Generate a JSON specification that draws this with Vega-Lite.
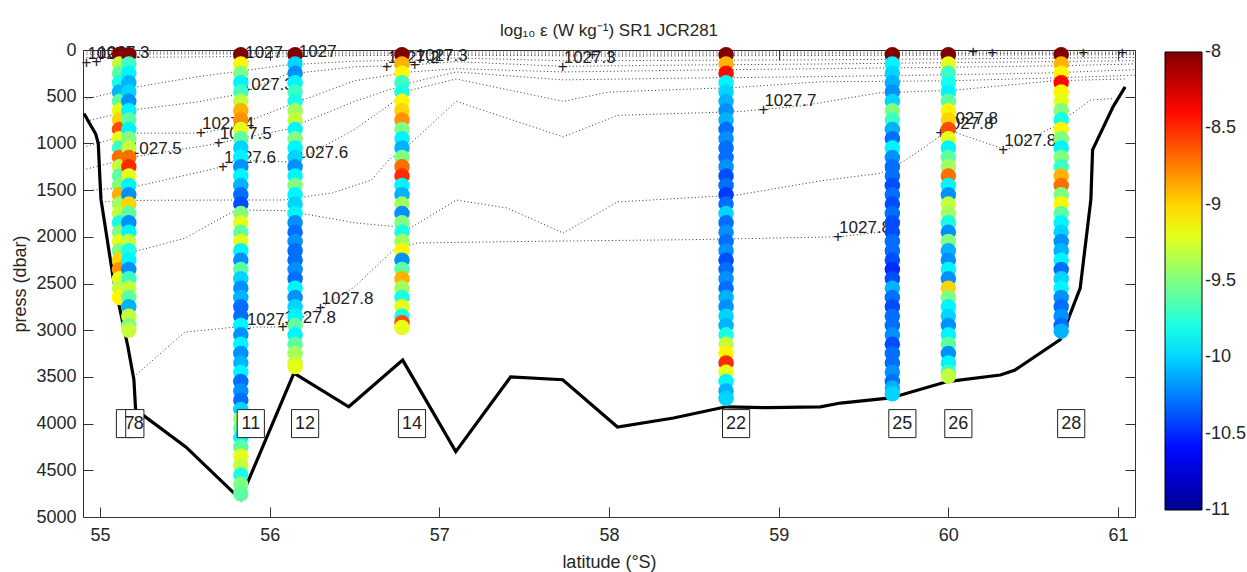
{
  "$schema": "https://vega.github.io/schema/vega-lite/v6.json",
  "width": 1052,
  "height": 467,
  "autosize": {"type": "none"},
  "padding": {"left": 83, "top": 50, "right": 112, "bottom": 55},
  "background": "white",
  "title": {"text": "log₁₀ ε (W kg⁻¹) SR1 JCR281", "fontSize": 17, "font": "Liberation Sans", "fontWeight": "normal", "color": "#262626", "frame": "group", "anchor": "middle", "offset": 14, "dy": 33, "baseline": "alphabetic"},
  "config": {
    "view": {"stroke": null},
    "axis": {"domainColor": "#333333", "tickColor": "#333333", "labelColor": "#262626", "labelFont": "Liberation Sans", "labelFontSize": 18, "titleFont": "Liberation Sans", "titleFontSize": 18, "titleFontWeight": "normal", "titleColor": "#262626", "grid": false, "tickSize": -10, "domainWidth": 1, "tickWidth": 1}
  },
  "resolve": {"axis": {"x": "independent", "y": "independent"}},
  "datasets": {
    "cont": [
      {"c":"t1","lat":54.9,"p":22},{"c":"t1","lat":61.1,"p":22},
      {"c":"t2","lat":54.9,"p":45},{"c":"t2","lat":56.0,"p":40},{"c":"t2","lat":58.0,"p":45},{"c":"t2","lat":61.1,"p":35},
      {"c":"t3","lat":54.9,"p":80},{"c":"t3","lat":55.5,"p":75},{"c":"t3","lat":56.5,"p":60},{"c":"t3","lat":57.1,"p":55},{"c":"t3","lat":58.0,"p":65},{"c":"t3","lat":59.0,"p":60},{"c":"t3","lat":60.0,"p":55},{"c":"t3","lat":61.1,"p":50},
      {"c":"a","lat":54.9,"p":535},{"c":"a","lat":55.2,"p":400},{"c":"a","lat":55.56,"p":290},{"c":"a","lat":55.79,"p":235},{"c":"a","lat":56.1,"p":160},{"c":"a","lat":56.5,"p":120},{"c":"a","lat":56.8,"p":110},{"c":"a","lat":57.1,"p":85},{"c":"a","lat":57.73,"p":115},{"c":"a","lat":58.5,"p":110},{"c":"a","lat":59.25,"p":105},{"c":"a","lat":60.0,"p":95},{"c":"a","lat":61.1,"p":80},
      {"c":"b","lat":54.9,"p":770},{"c":"b","lat":55.2,"p":640},{"c":"b","lat":55.56,"p":560},{"c":"b","lat":55.83,"p":470},{"c":"b","lat":56.1,"p":260},{"c":"b","lat":56.5,"p":180},{"c":"b","lat":56.8,"p":165},{"c":"b","lat":57.1,"p":125},{"c":"b","lat":57.73,"p":175},{"c":"b","lat":58.5,"p":160},{"c":"b","lat":59.25,"p":150},{"c":"b","lat":60.0,"p":135},{"c":"b","lat":61.1,"p":115},
      {"c":"c4","lat":54.9,"p":1040},{"c":"c4","lat":55.2,"p":890},{"c":"c4","lat":55.6,"p":890},{"c":"c4","lat":55.79,"p":820},{"c":"c4","lat":56.1,"p":600},{"c":"c4","lat":56.5,"p":330},{"c":"c4","lat":56.83,"p":235},{"c":"c4","lat":57.1,"p":200},{"c":"c4","lat":57.73,"p":235},{"c":"c4","lat":58.5,"p":215},{"c":"c4","lat":59.25,"p":200},{"c":"c4","lat":60.0,"p":185},{"c":"c4","lat":60.6,"p":170},{"c":"c4","lat":61.1,"p":150},
      {"c":"c5","lat":54.9,"p":1285},{"c":"c5","lat":55.2,"p":1145},{"c":"c5","lat":55.7,"p":1000},{"c":"c5","lat":55.79,"p":960},{"c":"c5","lat":56.1,"p":850},{"c":"c5","lat":56.5,"p":550},{"c":"c5","lat":56.83,"p":350},{"c":"c5","lat":57.1,"p":235},{"c":"c5","lat":57.73,"p":320},{"c":"c5","lat":58.5,"p":300},{"c":"c5","lat":59.25,"p":285},{"c":"c5","lat":60.0,"p":265},{"c":"c5","lat":60.6,"p":245},{"c":"c5","lat":61.1,"p":210},
      {"c":"c6","lat":54.96,"p":1500},{"c":"c6","lat":55.2,"p":1466},{"c":"c6","lat":55.725,"p":1250},{"c":"c6","lat":55.79,"p":1180},{"c":"c6","lat":56.15,"p":1200},{"c":"c6","lat":56.5,"p":850},{"c":"c6","lat":56.83,"p":430},{"c":"c6","lat":57.1,"p":310},{"c":"c6","lat":57.73,"p":550},{"c":"c6","lat":58.0,"p":450},{"c":"c6","lat":58.76,"p":400},{"c":"c6","lat":59.25,"p":340},{"c":"c6","lat":60.0,"p":330},{"c":"c6","lat":60.6,"p":300},{"c":"c6","lat":61.1,"p":270},
      {"c":"c7","lat":55.01,"p":1627},{"c":"c7","lat":55.2,"p":1610},{"c":"c7","lat":55.8,"p":1606},{"c":"c7","lat":56.08,"p":1606},{"c":"c7","lat":56.37,"p":1530},{"c":"c7","lat":56.6,"p":1392},{"c":"c7","lat":56.7,"p":1180},{"c":"c7","lat":56.83,"p":1000},{"c":"c7","lat":57.1,"p":550},{"c":"c7","lat":57.73,"p":930},{"c":"c7","lat":58.05,"p":700},{"c":"c7","lat":58.76,"p":660},{"c":"c7","lat":59.13,"p":600},{"c":"c7","lat":59.59,"p":460},{"c":"c7","lat":60.05,"p":428},{"c":"c7","lat":60.62,"p":330},{"c":"c7","lat":61.04,"p":310},
      {"c":"c75","lat":55.1,"p":2250},{"c":"c75","lat":55.2,"p":2160},{"c":"c75","lat":55.5,"p":2015},{"c":"c75","lat":55.8,"p":1713},{"c":"c75","lat":56.1,"p":1720},{"c":"c75","lat":56.5,"p":1850},{"c":"c75","lat":56.83,"p":1906},{"c":"c75","lat":57.1,"p":1606},{"c":"c75","lat":57.4,"p":1692},{"c":"c75","lat":57.73,"p":1960},{"c":"c75","lat":58.05,"p":1627},{"c":"c75","lat":58.76,"p":1552},{"c":"c75","lat":59.25,"p":1400},{"c":"c75","lat":59.6,"p":1320},{"c":"c75","lat":59.75,"p":1178},{"c":"c75","lat":59.92,"p":964},{"c":"c75","lat":60.0,"p":857},{"c":"c75","lat":60.07,"p":900},{"c":"c75","lat":60.34,"p":1070},{"c":"c75","lat":60.62,"p":824},{"c":"c75","lat":60.84,"p":535},{"c":"c75","lat":60.97,"p":520},
      {"c":"c8","lat":55.2,"p":3500},{"c":"c8","lat":55.5,"p":3020},{"c":"c8","lat":55.8,"p":2966},{"c":"c8","lat":56.08,"p":2966},{"c":"c8","lat":56.3,"p":2760},{"c":"c8","lat":56.5,"p":2537},{"c":"c8","lat":56.73,"p":2141},{"c":"c8","lat":56.87,"p":2066},{"c":"c8","lat":57.5,"p":2050},{"c":"c8","lat":58.5,"p":2030},{"c":"c8","lat":59.35,"p":2000},{"c":"c8","lat":59.6,"p":1950}
    ],
    "clab": [
      {"lat":54.92,"p":140,"t":"1027"},{"lat":54.98,"p":130,"t":"1027.3"},
      {"lat":55.17,"p":1160,"t":"1027.5"},{"lat":55.595,"p":890,"t":"1027.4"},{"lat":55.70,"p":1000,"t":"1027.5"},{"lat":55.725,"p":1250,"t":"1027.6"},
      {"lat":55.83,"p":470,"t":"1027.3"},{"lat":55.85,"p":128,"t":"1027"},{"lat":56.166,"p":118,"t":"1027"},
      {"lat":56.15,"p":1200,"t":"1027.6"},
      {"lat":55.86,"p":2990,"t":"1027.8"},{"lat":56.078,"p":2966,"t":"1027.8"},{"lat":56.30,"p":2760,"t":"1027.8"},
      {"lat":56.69,"p":182,"t":"1027.2"},{"lat":56.855,"p":160,"t":"1027.3"},
      {"lat":57.727,"p":182,"t":"1027.3"},{"lat":57.903,"p":54,"t":""},
      {"lat":58.91,"p":640,"t":"1027.7"},{"lat":59.35,"p":2000,"t":"1027.8"},
      {"lat":59.953,"p":890,"t":"1027.8"},{"lat":59.98,"p":835,"t":"1027.8"},{"lat":60.324,"p":1070,"t":"1027.8"},
      {"lat":60.147,"p":25,"t":""},{"lat":60.259,"p":30,"t":""},{"lat":60.795,"p":30,"t":""},{"lat":61.025,"p":30,"t":""}
    ],
    "bathy": [
      {"lat":54.906,"p":680},{"lat":54.94,"p":790},{"lat":54.975,"p":900},{"lat":54.99,"p":1000},{"lat":55.0,"p":1390},{"lat":55.006,"p":1600},{"lat":55.077,"p":2430},{"lat":55.165,"p":3180},{"lat":55.2,"p":3530},{"lat":55.21,"p":3850},{"lat":55.506,"p":4250},{"lat":55.79,"p":4745},{"lat":55.83,"p":4810},{"lat":55.877,"p":4600},{"lat":56.143,"p":3460},{"lat":56.466,"p":3820},{"lat":56.784,"p":3320},{"lat":57.097,"p":4300},{"lat":57.42,"p":3500},{"lat":57.727,"p":3530},{"lat":58.05,"p":4036},{"lat":58.38,"p":3940},{"lat":58.69,"p":3820},{"lat":58.934,"p":3830},{"lat":59.246,"p":3820},{"lat":59.364,"p":3780},{"lat":59.66,"p":3725},{"lat":59.994,"p":3550},{"lat":60.306,"p":3480},{"lat":60.39,"p":3430},{"lat":60.66,"p":3100},{"lat":60.777,"p":2550},{"lat":60.84,"p":1600},{"lat":60.85,"p":1070},{"lat":60.97,"p":610},{"lat":61.042,"p":395}
    ],
    "st": [
      {"s":"7","lat":55.115},{"s":"8","lat":55.17},{"s":"11","lat":55.83},{"s":"12","lat":56.15},{"s":"14","lat":56.78},{"s":"22","lat":58.69},{"s":"25","lat":59.67},{"s":"26","lat":60.0},{"s":"28","lat":60.665}
    ],
    "prof": [
      {"s":7,"lat":55.115,"p":50,"e":-8},{"s":7,"lat":55.115,"p":150,"e":-9.3},{"s":7,"lat":55.115,"p":250,"e":-9.6},{"s":7,"lat":55.115,"p":350,"e":-9.8},{"s":7,"lat":55.115,"p":450,"e":-10.1},{"s":7,"lat":55.115,"p":550,"e":-9.6},{"s":7,"lat":55.115,"p":650,"e":-9.2},{"s":7,"lat":55.115,"p":750,"e":-9.0},{"s":7,"lat":55.115,"p":850,"e":-8.6},{"s":7,"lat":55.115,"p":950,"e":-9.2},{"s":7,"lat":55.115,"p":1050,"e":-9.7},{"s":7,"lat":55.115,"p":1150,"e":-8.7},{"s":7,"lat":55.115,"p":1250,"e":-9.3},{"s":7,"lat":55.115,"p":1350,"e":-9.6},{"s":7,"lat":55.115,"p":1450,"e":-9.5},{"s":7,"lat":55.115,"p":1550,"e":-8.9},{"s":7,"lat":55.115,"p":1650,"e":-9.4},{"s":7,"lat":55.115,"p":1750,"e":-9.3},{"s":7,"lat":55.115,"p":1850,"e":-9.8},{"s":7,"lat":55.115,"p":1950,"e":-9.5},{"s":7,"lat":55.115,"p":2050,"e":-9.2},{"s":7,"lat":55.115,"p":2150,"e":-9.5},{"s":7,"lat":55.115,"p":2250,"e":-9.0},{"s":7,"lat":55.115,"p":2350,"e":-8.8},{"s":7,"lat":55.115,"p":2450,"e":-9.2},{"s":7,"lat":55.115,"p":2550,"e":-9.3},{"s":7,"lat":55.115,"p":2650,"e":-9.1},
      {"s":8,"lat":55.17,"p":50,"e":-8},{"s":8,"lat":55.17,"p":150,"e":-9.7},{"s":8,"lat":55.17,"p":250,"e":-9.9},{"s":8,"lat":55.17,"p":350,"e":-10.1},{"s":8,"lat":55.17,"p":450,"e":-10.0},{"s":8,"lat":55.17,"p":550,"e":-10.2},{"s":8,"lat":55.17,"p":650,"e":-9.9},{"s":8,"lat":55.17,"p":750,"e":-9.6},{"s":8,"lat":55.17,"p":850,"e":-9.9},{"s":8,"lat":55.17,"p":950,"e":-9.5},{"s":8,"lat":55.17,"p":1050,"e":-9.3},{"s":8,"lat":55.17,"p":1150,"e":-8.7},{"s":8,"lat":55.17,"p":1250,"e":-8.5},{"s":8,"lat":55.17,"p":1350,"e":-9.2},{"s":8,"lat":55.17,"p":1450,"e":-9.9},{"s":8,"lat":55.17,"p":1550,"e":-10.2},{"s":8,"lat":55.17,"p":1650,"e":-9.0},{"s":8,"lat":55.17,"p":1750,"e":-9.6},{"s":8,"lat":55.17,"p":1850,"e":-10.2},{"s":8,"lat":55.17,"p":1950,"e":-9.9},{"s":8,"lat":55.17,"p":2050,"e":-9.3},{"s":8,"lat":55.17,"p":2150,"e":-9.8},{"s":8,"lat":55.17,"p":2250,"e":-9.9},{"s":8,"lat":55.17,"p":2350,"e":-10.2},{"s":8,"lat":55.17,"p":2450,"e":-9.7},{"s":8,"lat":55.17,"p":2550,"e":-9.3},{"s":8,"lat":55.17,"p":2650,"e":-9.6},{"s":8,"lat":55.17,"p":2750,"e":-10.1},{"s":8,"lat":55.17,"p":2850,"e":-9.3},{"s":8,"lat":55.17,"p":2950,"e":-9.5},{"s":8,"lat":55.17,"p":3000,"e":-9.3},
      {"s":11,"lat":55.83,"p":50,"e":-8},{"s":11,"lat":55.83,"p":150,"e":-9.1},{"s":11,"lat":55.83,"p":250,"e":-9.5},{"s":11,"lat":55.83,"p":350,"e":-9.9},{"s":11,"lat":55.83,"p":450,"e":-9.7},{"s":11,"lat":55.83,"p":550,"e":-9.3},{"s":11,"lat":55.83,"p":650,"e":-8.9},{"s":11,"lat":55.83,"p":750,"e":-8.8},{"s":11,"lat":55.83,"p":850,"e":-9.2},{"s":11,"lat":55.83,"p":950,"e":-9.6},{"s":11,"lat":55.83,"p":1050,"e":-10.0},{"s":11,"lat":55.83,"p":1150,"e":-9.9},{"s":11,"lat":55.83,"p":1250,"e":-10.2},{"s":11,"lat":55.83,"p":1350,"e":-9.9},{"s":11,"lat":55.83,"p":1450,"e":-10.1},{"s":11,"lat":55.83,"p":1550,"e":-10.3},{"s":11,"lat":55.83,"p":1650,"e":-10.4},{"s":11,"lat":55.83,"p":1750,"e":-9.5},{"s":11,"lat":55.83,"p":1850,"e":-9.2},{"s":11,"lat":55.83,"p":1950,"e":-9.6},{"s":11,"lat":55.83,"p":2050,"e":-9.2},{"s":11,"lat":55.83,"p":2150,"e":-9.9},{"s":11,"lat":55.83,"p":2250,"e":-10.2},{"s":11,"lat":55.83,"p":2350,"e":-9.6},{"s":11,"lat":55.83,"p":2450,"e":-10.0},{"s":11,"lat":55.83,"p":2550,"e":-10.2},{"s":11,"lat":55.83,"p":2650,"e":-10.1},{"s":11,"lat":55.83,"p":2750,"e":-10.3},{"s":11,"lat":55.83,"p":2850,"e":-10.3},{"s":11,"lat":55.83,"p":2950,"e":-9.9},{"s":11,"lat":55.83,"p":3050,"e":-10.2},{"s":11,"lat":55.83,"p":3150,"e":-9.9},{"s":11,"lat":55.83,"p":3250,"e":-10.2},{"s":11,"lat":55.83,"p":3350,"e":-10.1},{"s":11,"lat":55.83,"p":3450,"e":-9.9},{"s":11,"lat":55.83,"p":3550,"e":-10.3},{"s":11,"lat":55.83,"p":3650,"e":-10.2},{"s":11,"lat":55.83,"p":3750,"e":-10.3},{"s":11,"lat":55.83,"p":3850,"e":-10.0},{"s":11,"lat":55.83,"p":3950,"e":-9.4},{"s":11,"lat":55.83,"p":4050,"e":-9.6},{"s":11,"lat":55.83,"p":4150,"e":-9.9},{"s":11,"lat":55.83,"p":4250,"e":-9.6},{"s":11,"lat":55.83,"p":4350,"e":-9.2},{"s":11,"lat":55.83,"p":4450,"e":-9.3},{"s":11,"lat":55.83,"p":4550,"e":-9.8},{"s":11,"lat":55.83,"p":4650,"e":-9.5},{"s":11,"lat":55.83,"p":4750,"e":-9.6},
      {"s":12,"lat":56.15,"p":50,"e":-8},{"s":12,"lat":56.15,"p":150,"e":-10.0},{"s":12,"lat":56.15,"p":250,"e":-10.2},{"s":12,"lat":56.15,"p":350,"e":-9.9},{"s":12,"lat":56.15,"p":450,"e":-9.7},{"s":12,"lat":56.15,"p":550,"e":-9.8},{"s":12,"lat":56.15,"p":650,"e":-9.4},{"s":12,"lat":56.15,"p":750,"e":-9.3},{"s":12,"lat":56.15,"p":850,"e":-9.9},{"s":12,"lat":56.15,"p":950,"e":-9.5},{"s":12,"lat":56.15,"p":1050,"e":-9.9},{"s":12,"lat":56.15,"p":1150,"e":-10.0},{"s":12,"lat":56.15,"p":1250,"e":-10.2},{"s":12,"lat":56.15,"p":1350,"e":-9.9},{"s":12,"lat":56.15,"p":1450,"e":-9.5},{"s":12,"lat":56.15,"p":1550,"e":-9.9},{"s":12,"lat":56.15,"p":1650,"e":-10.0},{"s":12,"lat":56.15,"p":1750,"e":-9.9},{"s":12,"lat":56.15,"p":1850,"e":-10.2},{"s":12,"lat":56.15,"p":1950,"e":-10.3},{"s":12,"lat":56.15,"p":2050,"e":-10.2},{"s":12,"lat":56.15,"p":2150,"e":-10.3},{"s":12,"lat":56.15,"p":2250,"e":-10.3},{"s":12,"lat":56.15,"p":2350,"e":-10.2},{"s":12,"lat":56.15,"p":2450,"e":-10.3},{"s":12,"lat":56.15,"p":2550,"e":-9.9},{"s":12,"lat":56.15,"p":2650,"e":-10.2},{"s":12,"lat":56.15,"p":2750,"e":-10.0},{"s":12,"lat":56.15,"p":2850,"e":-9.9},{"s":12,"lat":56.15,"p":2950,"e":-9.6},{"s":12,"lat":56.15,"p":3050,"e":-9.9},{"s":12,"lat":56.15,"p":3150,"e":-9.6},{"s":12,"lat":56.15,"p":3250,"e":-9.4},{"s":12,"lat":56.15,"p":3350,"e":-9.3},{"s":12,"lat":56.15,"p":3390,"e":-9.2},
      {"s":14,"lat":56.78,"p":50,"e":-8},{"s":14,"lat":56.78,"p":150,"e":-8.9},{"s":14,"lat":56.78,"p":250,"e":-9.1},{"s":14,"lat":56.78,"p":350,"e":-9.7},{"s":14,"lat":56.78,"p":450,"e":-9.8},{"s":14,"lat":56.78,"p":550,"e":-9.1},{"s":14,"lat":56.78,"p":650,"e":-9.0},{"s":14,"lat":56.78,"p":750,"e":-8.8},{"s":14,"lat":56.78,"p":850,"e":-9.5},{"s":14,"lat":56.78,"p":950,"e":-9.9},{"s":14,"lat":56.78,"p":1050,"e":-10.1},{"s":14,"lat":56.78,"p":1150,"e":-9.5},{"s":14,"lat":56.78,"p":1250,"e":-8.7},{"s":14,"lat":56.78,"p":1350,"e":-8.5},{"s":14,"lat":56.78,"p":1450,"e":-9.9},{"s":14,"lat":56.78,"p":1550,"e":-10.1},{"s":14,"lat":56.78,"p":1650,"e":-9.4},{"s":14,"lat":56.78,"p":1750,"e":-10.2},{"s":14,"lat":56.78,"p":1850,"e":-9.5},{"s":14,"lat":56.78,"p":1950,"e":-9.8},{"s":14,"lat":56.78,"p":2050,"e":-9.4},{"s":14,"lat":56.78,"p":2150,"e":-9.1},{"s":14,"lat":56.78,"p":2250,"e":-10.2},{"s":14,"lat":56.78,"p":2350,"e":-9.6},{"s":14,"lat":56.78,"p":2450,"e":-8.9},{"s":14,"lat":56.78,"p":2550,"e":-9.4},{"s":14,"lat":56.78,"p":2650,"e":-9.8},{"s":14,"lat":56.78,"p":2750,"e":-9.2},{"s":14,"lat":56.78,"p":2850,"e":-9.8},{"s":14,"lat":56.78,"p":2920,"e":-8.6},{"s":14,"lat":56.78,"p":2970,"e":-9.2},
      {"s":22,"lat":58.69,"p":50,"e":-8},{"s":22,"lat":58.69,"p":150,"e":-8.9},{"s":22,"lat":58.69,"p":250,"e":-8.4},{"s":22,"lat":58.69,"p":350,"e":-9.9},{"s":22,"lat":58.69,"p":450,"e":-10.0},{"s":22,"lat":58.69,"p":550,"e":-10.1},{"s":22,"lat":58.69,"p":650,"e":-10.2},{"s":22,"lat":58.69,"p":750,"e":-10.1},{"s":22,"lat":58.69,"p":850,"e":-10.3},{"s":22,"lat":58.69,"p":950,"e":-10.2},{"s":22,"lat":58.69,"p":1050,"e":-10.3},{"s":22,"lat":58.69,"p":1150,"e":-10.3},{"s":22,"lat":58.69,"p":1250,"e":-10.2},{"s":22,"lat":58.69,"p":1350,"e":-10.4},{"s":22,"lat":58.69,"p":1450,"e":-10.3},{"s":22,"lat":58.69,"p":1550,"e":-10.45},{"s":22,"lat":58.69,"p":1650,"e":-10.3},{"s":22,"lat":58.69,"p":1750,"e":-10.0},{"s":22,"lat":58.69,"p":1850,"e":-10.3},{"s":22,"lat":58.69,"p":1950,"e":-10.2},{"s":22,"lat":58.69,"p":2050,"e":-10.3},{"s":22,"lat":58.69,"p":2150,"e":-10.2},{"s":22,"lat":58.69,"p":2250,"e":-10.4},{"s":22,"lat":58.69,"p":2350,"e":-10.3},{"s":22,"lat":58.69,"p":2450,"e":-10.2},{"s":22,"lat":58.69,"p":2550,"e":-10.3},{"s":22,"lat":58.69,"p":2650,"e":-10.1},{"s":22,"lat":58.69,"p":2750,"e":-10.2},{"s":22,"lat":58.69,"p":2850,"e":-10.0},{"s":22,"lat":58.69,"p":2950,"e":-10.1},{"s":22,"lat":58.69,"p":3050,"e":-9.8},{"s":22,"lat":58.69,"p":3150,"e":-9.3},{"s":22,"lat":58.69,"p":3250,"e":-9.1},{"s":22,"lat":58.69,"p":3350,"e":-8.5},{"s":22,"lat":58.69,"p":3450,"e":-9.2},{"s":22,"lat":58.69,"p":3550,"e":-9.9},{"s":22,"lat":58.69,"p":3650,"e":-10.1},{"s":22,"lat":58.69,"p":3730,"e":-10.0},
      {"s":25,"lat":59.67,"p":50,"e":-8},{"s":25,"lat":59.67,"p":150,"e":-9.9},{"s":25,"lat":59.67,"p":250,"e":-10.0},{"s":25,"lat":59.67,"p":350,"e":-10.1},{"s":25,"lat":59.67,"p":450,"e":-10.2},{"s":25,"lat":59.67,"p":550,"e":-10.0},{"s":25,"lat":59.67,"p":650,"e":-9.5},{"s":25,"lat":59.67,"p":750,"e":-9.7},{"s":25,"lat":59.67,"p":850,"e":-10.1},{"s":25,"lat":59.67,"p":950,"e":-10.3},{"s":25,"lat":59.67,"p":1050,"e":-9.9},{"s":25,"lat":59.67,"p":1150,"e":-10.2},{"s":25,"lat":59.67,"p":1250,"e":-10.3},{"s":25,"lat":59.67,"p":1350,"e":-10.3},{"s":25,"lat":59.67,"p":1450,"e":-10.4},{"s":25,"lat":59.67,"p":1550,"e":-10.3},{"s":25,"lat":59.67,"p":1650,"e":-10.4},{"s":25,"lat":59.67,"p":1750,"e":-10.3},{"s":25,"lat":59.67,"p":1850,"e":-10.4},{"s":25,"lat":59.67,"p":1950,"e":-10.4},{"s":25,"lat":59.67,"p":2050,"e":-10.3},{"s":25,"lat":59.67,"p":2150,"e":-10.3},{"s":25,"lat":59.67,"p":2250,"e":-10.4},{"s":25,"lat":59.67,"p":2350,"e":-10.5},{"s":25,"lat":59.67,"p":2450,"e":-10.4},{"s":25,"lat":59.67,"p":2550,"e":-10.1},{"s":25,"lat":59.67,"p":2650,"e":-10.3},{"s":25,"lat":59.67,"p":2750,"e":-10.4},{"s":25,"lat":59.67,"p":2850,"e":-10.3},{"s":25,"lat":59.67,"p":2950,"e":-10.3},{"s":25,"lat":59.67,"p":3050,"e":-10.2},{"s":25,"lat":59.67,"p":3150,"e":-10.4},{"s":25,"lat":59.67,"p":3250,"e":-10.3},{"s":25,"lat":59.67,"p":3350,"e":-10.3},{"s":25,"lat":59.67,"p":3450,"e":-10.2},{"s":25,"lat":59.67,"p":3550,"e":-10.3},{"s":25,"lat":59.67,"p":3620,"e":-10.1},{"s":25,"lat":59.67,"p":3680,"e":-10.0},
      {"s":26,"lat":60.0,"p":50,"e":-8},{"s":26,"lat":60.0,"p":150,"e":-9.2},{"s":26,"lat":60.0,"p":250,"e":-9.7},{"s":26,"lat":60.0,"p":350,"e":-9.8},{"s":26,"lat":60.0,"p":450,"e":-9.9},{"s":26,"lat":60.0,"p":550,"e":-9.6},{"s":26,"lat":60.0,"p":650,"e":-9.1},{"s":26,"lat":60.0,"p":750,"e":-9.0},{"s":26,"lat":60.0,"p":850,"e":-8.6},{"s":26,"lat":60.0,"p":950,"e":-9.2},{"s":26,"lat":60.0,"p":1050,"e":-9.9},{"s":26,"lat":60.0,"p":1150,"e":-9.6},{"s":26,"lat":60.0,"p":1250,"e":-9.4},{"s":26,"lat":60.0,"p":1350,"e":-8.7},{"s":26,"lat":60.0,"p":1450,"e":-9.9},{"s":26,"lat":60.0,"p":1550,"e":-10.2},{"s":26,"lat":60.0,"p":1650,"e":-9.3},{"s":26,"lat":60.0,"p":1750,"e":-9.4},{"s":26,"lat":60.0,"p":1850,"e":-9.8},{"s":26,"lat":60.0,"p":1950,"e":-10.2},{"s":26,"lat":60.0,"p":2050,"e":-9.5},{"s":26,"lat":60.0,"p":2150,"e":-10.1},{"s":26,"lat":60.0,"p":2250,"e":-10.2},{"s":26,"lat":60.0,"p":2350,"e":-9.9},{"s":26,"lat":60.0,"p":2450,"e":-10.2},{"s":26,"lat":60.0,"p":2550,"e":-9.0},{"s":26,"lat":60.0,"p":2650,"e":-9.5},{"s":26,"lat":60.0,"p":2750,"e":-9.9},{"s":26,"lat":60.0,"p":2850,"e":-10.0},{"s":26,"lat":60.0,"p":2950,"e":-10.2},{"s":26,"lat":60.0,"p":3050,"e":-9.9},{"s":26,"lat":60.0,"p":3150,"e":-9.6},{"s":26,"lat":60.0,"p":3250,"e":-10.2},{"s":26,"lat":60.0,"p":3350,"e":-9.9},{"s":26,"lat":60.0,"p":3450,"e":-9.7},{"s":26,"lat":60.0,"p":3490,"e":-9.3},
      {"s":28,"lat":60.665,"p":50,"e":-8},{"s":28,"lat":60.665,"p":150,"e":-8.9},{"s":28,"lat":60.665,"p":250,"e":-9.1},{"s":28,"lat":60.665,"p":350,"e":-8.4},{"s":28,"lat":60.665,"p":450,"e":-9.1},{"s":28,"lat":60.665,"p":550,"e":-9.2},{"s":28,"lat":60.665,"p":650,"e":-9.5},{"s":28,"lat":60.665,"p":750,"e":-9.8},{"s":28,"lat":60.665,"p":850,"e":-9.1},{"s":28,"lat":60.665,"p":950,"e":-9.5},{"s":28,"lat":60.665,"p":1050,"e":-9.9},{"s":28,"lat":60.665,"p":1150,"e":-9.5},{"s":28,"lat":60.665,"p":1250,"e":-9.7},{"s":28,"lat":60.665,"p":1350,"e":-8.9},{"s":28,"lat":60.665,"p":1450,"e":-8.7},{"s":28,"lat":60.665,"p":1550,"e":-9.5},{"s":28,"lat":60.665,"p":1650,"e":-9.1},{"s":28,"lat":60.665,"p":1750,"e":-9.6},{"s":28,"lat":60.665,"p":1850,"e":-9.9},{"s":28,"lat":60.665,"p":1950,"e":-10.0},{"s":28,"lat":60.665,"p":2050,"e":-10.2},{"s":28,"lat":60.665,"p":2150,"e":-10.1},{"s":28,"lat":60.665,"p":2250,"e":-9.9},{"s":28,"lat":60.665,"p":2350,"e":-10.3},{"s":28,"lat":60.665,"p":2450,"e":-10.0},{"s":28,"lat":60.665,"p":2550,"e":-9.9},{"s":28,"lat":60.665,"p":2650,"e":-10.2},{"s":28,"lat":60.665,"p":2750,"e":-10.3},{"s":28,"lat":60.665,"p":2850,"e":-10.2},{"s":28,"lat":60.665,"p":2950,"e":-10.3},{"s":28,"lat":60.665,"p":3010,"e":-10.1}
    ]
  },
  "layer": [
    {
      "data": {"name": "cont"},
      "mark": {"type": "line", "strokeDash": [1, 2.5], "strokeWidth": 1, "color": "#333333"},
      "encoding": {
        "x": {"field": "lat", "type": "quantitative", "scale": {"domain": [54.9, 61.1], "nice": false, "zero": false},
              "axis": {"orient": "bottom", "values": [55, 56, 57, 58, 59, 60, 61], "format": "d", "title": "latitude (°S)", "labelPadding": 19, "titleY": 45, "titleBaseline": "middle"}},
        "y": {"field": "p", "type": "quantitative", "scale": {"domain": [0, 5000], "reverse": true, "nice": false, "zero": false},
              "axis": {"orient": "left", "values": [0, 500, 1000, 1500, 2000, 2500, 3000, 3500, 4000, 4500, 5000], "format": "d", "title": "press (dbar)", "labelPadding": 17, "titleX": -63, "titleY": 233.5, "titleBaseline": "middle"}},
        "detail": {"field": "c"}
      }
    },
    {
      "data": {"name": "clab"},
      "mark": {"type": "text", "text": "+", "fontSize": 17, "font": "Liberation Sans", "align": "center", "baseline": "middle", "color": "#222222"},
      "encoding": {
        "x": {"field": "lat", "type": "quantitative", "axis": null},
        "y": {"field": "p", "type": "quantitative", "axis": null}
      }
    },
    {
      "data": {"name": "clab"},
      "mark": {"type": "text", "fontSize": 17, "font": "Liberation Sans", "align": "left", "baseline": "alphabetic", "dx": 1, "dy": -4, "color": "#222222"},
      "encoding": {
        "x": {"field": "lat", "type": "quantitative", "axis": null},
        "y": {"field": "p", "type": "quantitative", "axis": null},
        "text": {"field": "t"}
      }
    },
    {
      "data": {"name": "bathy"},
      "mark": {"type": "line", "strokeWidth": 3.2, "color": "#000000"},
      "encoding": {
        "x": {"field": "lat", "type": "quantitative", "axis": {"orient": "top", "values": [55, 56, 57, 58, 59, 60, 61], "labels": false, "title": null}},
        "y": {"field": "p", "type": "quantitative", "axis": {"orient": "right", "values": [0, 500, 1000, 1500, 2000, 2500, 3000, 3500, 4000, 4500, 5000], "labels": false, "title": null}}
      }
    },
    {
      "data": {"name": "prof"},
      "mark": {"type": "point", "shape": "circle", "filled": true, "size": 240, "opacity": 1, "strokeWidth": 0},
      "encoding": {
        "x": {"field": "lat", "type": "quantitative", "axis": null},
        "y": {"field": "p", "type": "quantitative", "axis": null},
        "color": {"field": "e", "type": "quantitative",
                  "scale": {"domain": [-11.0005, -10.625, -9.875, -9.125, -8.375, -7.9995], "range": ["#00008f", "#0000ff", "#00ffff", "#ffff00", "#ff0000", "#800000"], "interpolate": "rgb", "clamp": true},
                  "legend": {"orient": "right", "offset": 26, "padding": 2, "title": null, "gradientLength": 458, "gradientThickness": 37, "values": [-11, -10.5, -10, -9.5, -9, -8.5, -8], "labelExpr": "(datum.value < 0 ? '-' : '') + format(abs(datum.value), '')", "labelFont": "Liberation Sans", "labelFontSize": 18, "labelColor": "#262626", "labelOverlap": false, "labelOffset": 3, "gradientStrokeColor": "#000000", "gradientStrokeWidth": 1}}
      }
    },
    {
      "data": {"name": "st"},
      "transform": [{"filter": "length(datum.s) == 2"}],
      "mark": {"type": "point", "shape": "M-0.97,-1H0.97V1H-0.97Z", "size": 784, "filled": false, "fill": "white", "stroke": "#222222", "strokeWidth": 1, "opacity": 1, "xOffset": 10},
      "encoding": {
        "x": {"field": "lat", "type": "quantitative", "axis": null},
        "y": {"datum": 4000, "type": "quantitative", "axis": null}
      }
    },
    {
      "data": {"name": "st"},
      "transform": [{"filter": "length(datum.s) == 1"}],
      "mark": {"type": "point", "shape": "M-0.65,-1H0.65V1H-0.65Z", "size": 784, "filled": false, "fill": "white", "stroke": "#222222", "strokeWidth": 1, "opacity": 1, "xOffset": 6},
      "encoding": {
        "x": {"field": "lat", "type": "quantitative", "axis": null},
        "y": {"datum": 4000, "type": "quantitative", "axis": null}
      }
    },
    {
      "data": {"name": "st"},
      "mark": {"type": "text", "fontSize": 18, "font": "Liberation Sans", "align": "center", "baseline": "middle", "color": "#222222"},
      "encoding": {
        "x": {"field": "lat", "type": "quantitative", "axis": null},
        "y": {"datum": 4000, "type": "quantitative", "axis": null},
        "xOffset": {"condition": {"test": "length(datum.s) == 1", "value": 6}, "value": 10},
        "text": {"field": "s"}
      }
    }
  ]
}
